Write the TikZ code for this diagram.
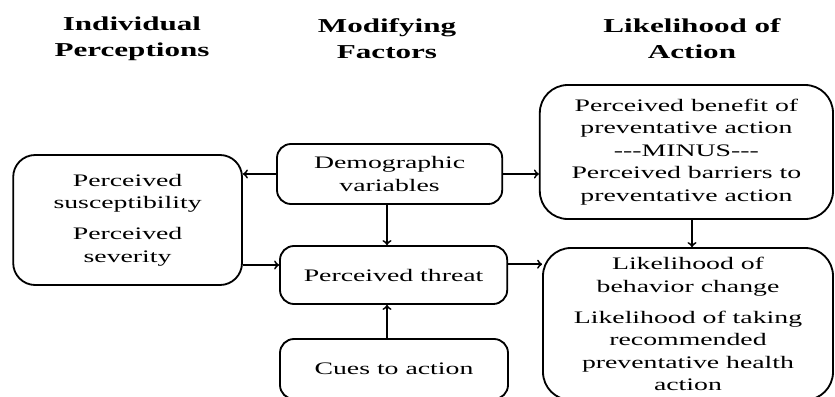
\documentclass[tikz,border=0pt]{standalone}
\usepackage{fontspec}
\setmainfont[FakeStretch=1.58]{Liberation Serif}
\usetikzlibrary{positioning, calc}

\begin{document}
\begin{tikzpicture} [
    heading/.style={font=\fontsize{14}{18.5}\selectfont\bfseries, align=center},
    box/.style={rectangle, draw=black, line width=1.3pt, font=\fontsize{12.5}{16}\selectfont, align=center, inner sep=2pt},
    arrow/.style={->, line width=1.3pt, >=to}
]

\useasboundingbox (0,0) rectangle (20.875,-9.9);
\clip (0,0) rectangle (20.875,-9.9);

% Column headings
\node[heading] (hindiv) at (3.3,-0.975) {Individual\\Perceptions};
\node[heading] (hmod) at (9.675,-0.975) {Modifying\\Factors};
\node[heading] (hact) at (17.3,-0.975) {Likelihood of\\Action};

% Boxes
\node[box, rounded corners=0.55cm, minimum width=5.72cm, minimum height=3.25cm] (indiv) at (3.19,-5.5) {Perceived\\susceptibility\\[6pt]Perceived\\severity};
\node[box, rounded corners=0.35cm, minimum width=5.63cm, minimum height=1.5cm] (demo) at (9.74,-4.35) {Demographic\\variables};
\node[box, rounded corners=0.35cm, minimum width=5.68cm, minimum height=1.45cm] (threat) at (9.84,-6.875) {Perceived threat};
\node[box, rounded corners=0.35cm, minimum width=5.7cm, minimum height=1.5cm] (cues) at (9.85,-9.225) {Cues to action};
\node[box, rounded corners=0.7cm, minimum width=7.33cm, minimum height=3.35cm] (benefit) at (17.16,-3.8) {Perceived benefit of\\preventative action\\-{}-{}-MINUS-{}-{}-\\Perceived barriers to\\preventative action};
\node[box, rounded corners=0.7cm, minimum width=7.25cm, minimum height=3.8cm] (likely) at (17.2,-8.1) {Likelihood of\\behavior change\\[6pt]Likelihood of taking\\recommended\\preventative health\\action};

\coordinate (sevout) at ([yshift=-1.125cm]indiv.east);
\coordinate (throut) at ([yshift=0.27cm]threat.east);

% Connectors
\draw[arrow] (demo.west) -- (demo.west -| indiv.east);
\draw[arrow] (demo.east) -- (demo.east -| benefit.west);
\draw[arrow] (demo.south -| hmod) -- (threat.north -| hmod);
\draw[arrow] (sevout) -- (sevout -| threat.west);
\draw[arrow] (throut) -- (throut -| likely.west);
\draw[arrow] (cues.north -| hmod) -- (threat.south -| hmod);
\draw[arrow] (benefit.south -| hact) -- (likely.north -| hact);

\end{tikzpicture}
\end{document}
